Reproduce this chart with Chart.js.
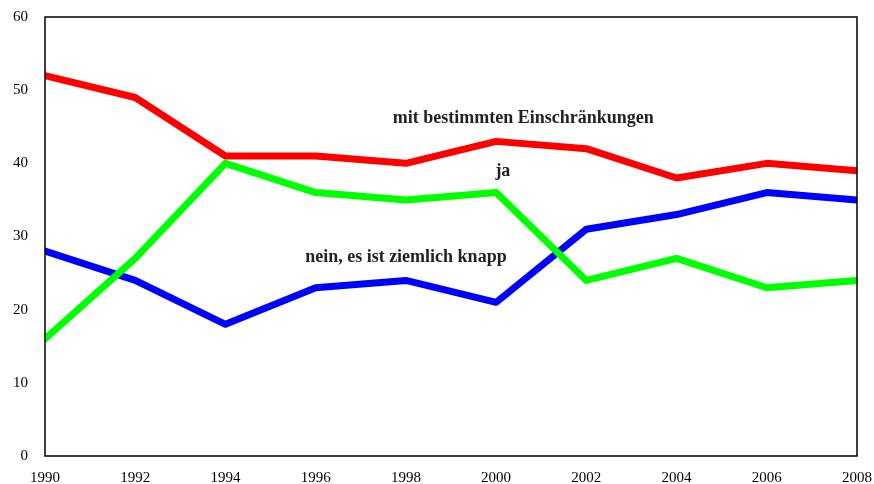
<!DOCTYPE html>
<html>
<head>
<meta charset="utf-8">
<script src="https://cdn.jsdelivr.net/npm/chart.js@4.4.1/dist/chart.umd.min.js"></script>
<style>
  html, body { margin: 0; padding: 0; background: #fff; }
  #wrap { width: 874px; height: 484px; }
</style>
</head>
<body>
<div id="wrap"><canvas id="chart"></canvas></div>
<script>
const years = [1990, 1992, 1994, 1996, 1998, 2000, 2002, 2004, 2006, 2008];
const mitEinschraenkungen = [52, 49, 41, 41, 40, 43, 42, 38, 40, 39];
const ja = [16, 27, 40, 36, 35, 36, 24, 27, 23, 24];
const neinKnapp = [28, 24, 18, 23, 24, 21, 31, 33, 36, 35];

// label texts with their anchor in data coordinates
const labelTexts = ['mit bestimmten Einschränkungen', 'ja', 'nein, es ist ziemlich knapp'];
const labelX = [2000.6, 2000.15, 1998.0];
const labelY = [46.15, 38.95, 27.15];

const serif = '"Liberation Serif", "Times New Roman", serif';
const toPoints = (vals) => vals.map((v, i) => ({ x: years[i], y: v }));

const frameAndLabels = {
    id: 'frameAndLabels',
    afterDatasetsDraw(chart) {
        const { ctx, chartArea: a, scales } = chart;
        ctx.save();
        ctx.strokeStyle = '#000';
        ctx.lineWidth = 1.5;
        ctx.strokeRect(a.left, a.top, a.right - a.left, a.bottom - a.top);

        ctx.fillStyle = '#222';
        ctx.font = 'bold 18px ' + serif;
        ctx.textAlign = 'center';
        ctx.textBaseline = 'middle';
        labelTexts.forEach((t, i) => {
            ctx.fillText(t, scales.x.getPixelForValue(labelX[i]), scales.y.getPixelForValue(labelY[i]));
        });
        ctx.restore();
    }
};

const lineStyle = (color) => ({
    borderColor: color,
    backgroundColor: color,
    borderWidth: 7,
    pointRadius: 0,
    tension: 0,
    fill: false,
    borderJoinStyle: 'round',
    borderCapStyle: 'round'
});

new Chart(document.getElementById('chart'), {
    type: 'line',
    data: {
        datasets: [
            { label: 'mit bestimmten Einschränkungen', data: toPoints(mitEinschraenkungen), ...lineStyle('#ff0000') },
            { label: 'ja', data: toPoints(ja), ...lineStyle('#00ff00') },
            { label: 'nein, es ist ziemlich knapp', data: toPoints(neinKnapp), ...lineStyle('#0000ff') }
        ]
    },
    options: {
        responsive: true,
        maintainAspectRatio: false,
        animation: false,
        layout: { padding: { top: 17, right: 17, left: 0, bottom: 0 } },
        plugins: {
            legend: { display: false },
            tooltip: { enabled: false }
        },
        scales: {
            x: {
                type: 'linear',
                min: 1990,
                max: 2008,
                grid: { display: false, drawTicks: false },
                border: { display: false },
                afterFit: (s) => { s.height = 28; s.paddingLeft = 0; s.paddingRight = 0; },
                ticks: {
                    stepSize: 2,
                    color: '#000',
                    padding: 13,
                    maxRotation: 0,
                    font: { family: serif, size: 15 },
                    callback: (v) => String(v)
                }
            },
            y: {
                min: 0,
                max: 60,
                grid: { display: false, drawTicks: false },
                border: { display: false },
                afterFit: (s) => { s.width = 45; s.paddingTop = 0; s.paddingBottom = 0; },
                ticks: {
                    stepSize: 10,
                    color: '#000',
                    padding: 17,
                    font: { family: serif, size: 15 }
                }
            }
        }
    },
    plugins: [frameAndLabels]
});
</script>
</body>
</html>
